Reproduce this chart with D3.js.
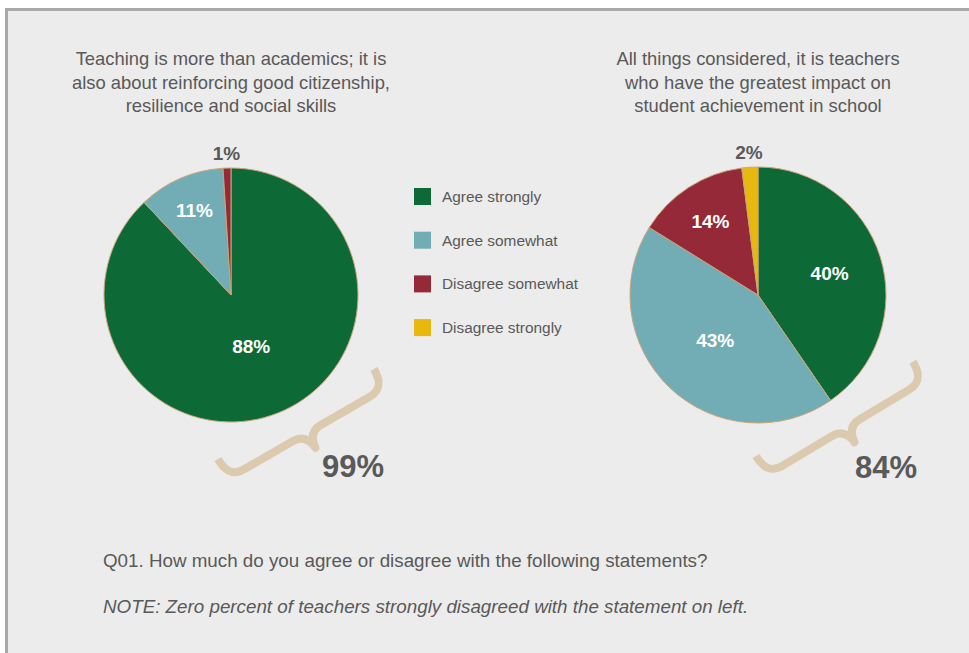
<!DOCTYPE html>
<html>
<head>
<meta charset="utf-8">
<script src="https://cdn.jsdelivr.net/npm/d3@7"></script>
<style>
  html, body { margin: 0; padding: 0; background: #ffffff; }
  svg { display: block; }
  text { font-family: "Liberation Sans", Arial, sans-serif; }
</style>
</head>
<body>
<svg id="chart" width="969" height="653"></svg>
<script>
// Response categories (shared legend)
const categories = ["Agree strongly", "Agree somewhat", "Disagree somewhat", "Disagree strongly"];
const categoryColors = ["#0d6a37", "#72adb5", "#962938", "#e8b80e"];

// Left statement
const leftTitle = ["Teaching is more than academics; it is",
                   "also about reinforcing good citizenship,",
                   "resilience and social skills"];
const leftValues = [88, 11, 1, 0];
const leftTotal = "99%";

// Right statement
const rightTitle = ["All things considered, it is teachers",
                    "who have the greatest impact on",
                    "student achievement in school"];
const rightValues = [40, 43, 14, 2];
const rightTotal = "84%";

const questionText = "Q01. How much do you agree or disagree with the following statements?";
const noteText = "NOTE: Zero percent of teachers strongly disagreed with the statement on left.";

const svg = d3.select("#chart");
const textGray = "#595959";

// Panel background with grey top/left rule
svg.append("rect").attr("x", 5).attr("y", 8).attr("width", 969).attr("height", 660)
  .attr("fill", "#ececec");
svg.append("rect").attr("x", 5).attr("y", 8).attr("width", 969).attr("height", 3).attr("fill", "#a9a9a9");
svg.append("rect").attr("x", 5).attr("y", 8).attr("width", 3).attr("height", 660).attr("fill", "#a9a9a9");

const color = d3.scaleOrdinal().domain(categories).range(categoryColors);
const pie = d3.pie().sort(null).value(d => d.value);

// Curly brace in local coordinates: ends hook up at y=0, cusp points down at the middle
function bracePath(W) {
  const H = 22, C = 39, m = W / 2;
  const p = d3.path();
  p.moveTo(0, 0);
  p.bezierCurveTo(0, 14, 4, H, 18, H);
  p.lineTo(m - 16, H);
  p.bezierCurveTo(m - 6, H, m - 1, H + 6, m, C);
  p.bezierCurveTo(m + 1, H + 6, m + 6, H, m + 16, H);
  p.lineTo(W - 18, H);
  p.bezierCurveTo(W - 4, H, W, 14, W, 0);
  return p.toString();
}

function drawPanel(cfg) {
  const g = svg.append("g").attr("transform", `translate(${cfg.cx},${cfg.cy})`);
  const R = cfg.r;
  const data = categories.map((c, i) => ({ cat: c, value: cfg.values[i] }))
                         .filter(d => d.value > 0);
  const arcs = pie(data);
  const total = d3.sum(data, d => d.value);
  const arc = d3.arc().innerRadius(0).outerRadius(R);

  g.selectAll("path.slice").data(arcs).join("path")
    .attr("class", "slice")
    .attr("d", arc)
    .attr("fill", d => color(d.data.cat))
    .attr("stroke", "#c9a679")
    .attr("stroke-width", 1);

  // Value labels: inside for larger slices, outside above for slivers
  g.selectAll("text.val").data(arcs).join("text")
    .attr("class", "val")
    .attr("transform", d => {
      const frac = d.value / total;
      const a = (d.startAngle + d.endAngle) / 2;
      const rr = frac < 0.05 ? R + 15 : (cfg.labelR[d.data.cat] || R * 0.6);
      return `translate(${Math.sin(a) * rr},${-Math.cos(a) * rr})`;
    })
    .attr("text-anchor", "middle")
    .attr("dy", "0.36em")
    .attr("font-family", "Lato, 'Liberation Sans', sans-serif")
    .attr("font-weight", "bold")
    .attr("font-size", 19)
    .attr("fill", d => d.value / total < 0.05 ? textGray : "#ffffff")
    .text(d => d.value + "%");

  // Title
  svg.append("text")
    .attr("x", cfg.cx).attr("y", cfg.titleY)
    .attr("text-anchor", "middle")
    .attr("font-size", 18.4)
    .attr("fill", textGray)
    .selectAll("tspan").data(cfg.title).join("tspan")
    .attr("x", cfg.cx).attr("dy", (d, i) => i === 0 ? 0 : 23.5)
    .text(d => d);

  // Brace and total
  svg.append("path")
    .attr("d", bracePath(cfg.braceW))
    .attr("transform", `translate(${cfg.braceX},${cfg.braceY}) rotate(${cfg.braceRot})`)
    .attr("fill", "none")
    .attr("stroke", "#dccaaf")
    .attr("stroke-width", 8)
    .attr("stroke-linejoin", "round");

  svg.append("text")
    .attr("x", cfg.totalX).attr("y", cfg.totalY)
    .attr("text-anchor", "middle")
    .attr("font-family", "Lato, 'Liberation Sans', sans-serif")
    .attr("font-weight", "bold")
    .attr("font-size", 31)
    .attr("fill", textGray)
    .text(cfg.total);
}

drawPanel({
  cx: 231, cy: 295, r: 127, values: leftValues, title: leftTitle, titleY: 65,
  labelR: { "Agree strongly": 55, "Agree somewhat": 92 },
  braceX: 218, braceY: 459, braceW: 180, braceRot: -30,
  total: leftTotal, totalX: 353, totalY: 477
});
drawPanel({
  cx: 758, cy: 295, r: 128, values: rightValues, title: rightTitle, titleY: 65,
  labelR: { "Agree strongly": 75, "Agree somewhat": 62, "Disagree somewhat": 88 },
  braceX: 756, braceY: 456, braceW: 183, braceRot: -31,
  total: rightTotal, totalX: 886, totalY: 478
});

// Legend
const legend = svg.append("g").attr("transform", "translate(414,188)");
const item = legend.selectAll("g").data(categories).join("g")
  .attr("transform", (d, i) => `translate(0,${i * 43.7})`);
item.append("rect").attr("width", 17).attr("height", 17).attr("fill", d => color(d));
item.append("text").attr("x", 28).attr("y", 8.5).attr("dy", "0.35em")
  .attr("font-size", 15.4).attr("fill", textGray).text(d => d);

// Footnotes
svg.append("text").attr("x", 103).attr("y", 567)
  .attr("font-size", 18.8).attr("fill", textGray).text(questionText);
svg.append("text").attr("x", 103).attr("y", 613)
  .attr("font-size", 18.8).attr("font-style", "italic").attr("fill", textGray).text(noteText);
</script>
</body>
</html>
